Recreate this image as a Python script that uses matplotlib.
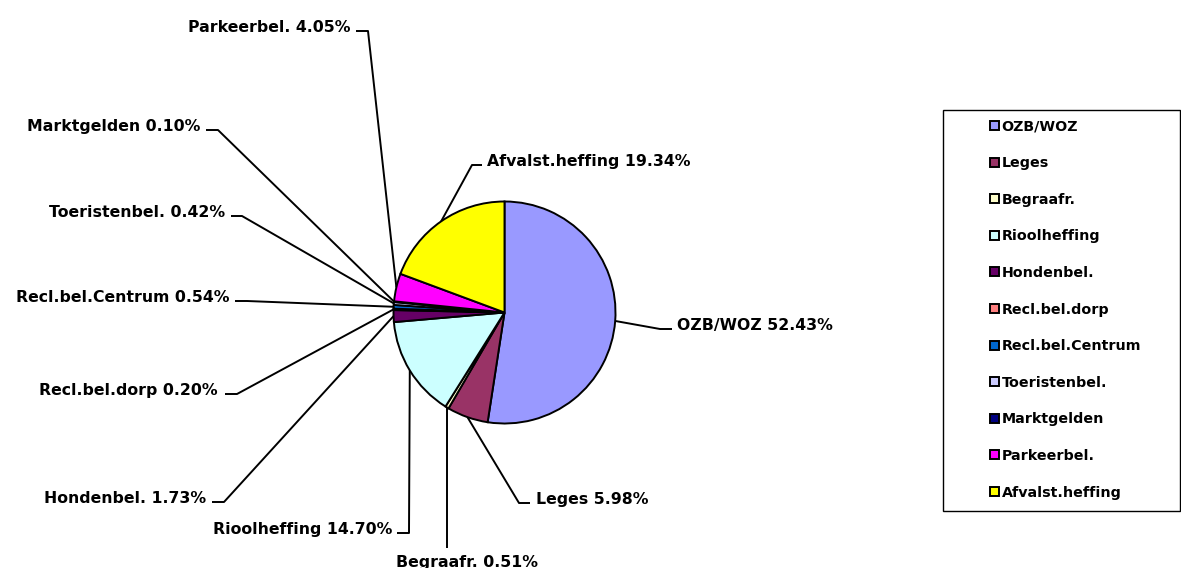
import matplotlib
matplotlib.use("Agg")
import matplotlib.pyplot as plt
from matplotlib.patches import Rectangle
import numpy as np

# ---- data ----
categories = ["OZB/WOZ", "Leges", "Begraafr.", "Rioolheffing", "Hondenbel.",
              "Recl.bel.dorp", "Recl.bel.Centrum", "Toeristenbel.", "Marktgelden",
              "Parkeerbel.", "Afvalst.heffing"]
shares = [52.43, 5.98, 0.51, 14.70, 1.73, 0.20, 0.54, 0.42, 0.10, 4.05, 19.34]

# ---- style ----
colors = ["#9999FF", "#993366", "#FFFFCC", "#CCFFFF", "#660066", "#FF8080",
          "#0066CC", "#CCCCFF", "#000080", "#FF00FF", "#FFFF00"]

W, H = 1181, 568
fig = plt.figure(figsize=(W / 100, H / 100), dpi=100)
ax = fig.add_axes([0, 0, 1, 1])

def Y(y):
    return H - y

cx, cy, R = 504.5, 312.5, 111
wedges, _ = ax.pie(shares, colors=colors, startangle=90, counterclock=False,
                   center=(cx, Y(cy)), radius=R,
                   wedgeprops=dict(edgecolor="black", linewidth=1.4))
ax.set_xlim(0, W)
ax.set_ylim(0, H)
ax.set_aspect("auto")
ax.axis("off")

# label layout: text x, text baseline y, ha, leader points (pixel coords, top-down)
layout = {
    "OZB/WOZ":          (677, 330, "left",   [(672, 329), (660, 329)]),
    "Leges":            (536, 504, "left",   [(530, 503), (519, 503)]),
    "Begraafr.":        (467, 567, "center", [(447, 548)]),
    "Rioolheffing":     (392, 534, "right",  [(397, 533), (409, 533)]),
    "Hondenbel.":       (206, 503, "right",  [(212, 502), (224, 502)]),
    "Recl.bel.dorp":    (218, 395, "right",  [(225, 394), (237, 394)]),
    "Recl.bel.Centrum": (229, 302, "right",  [(235, 301), (247, 301)]),
    "Toeristenbel.":    (225, 217, "right",  [(231, 216), (242, 216)]),
    "Marktgelden":      (200, 131, "right",  [(206, 130), (218, 130)]),
    "Parkeerbel.":      (350, 32,  "right",  [(356, 31), (368, 31)]),
    "Afvalst.heffing":  (487, 166, "left",   [(482, 165), (472, 165)]),
}

for w, name, val in zip(wedges, categories, shares):
    tx, ty, ha, pts = layout[name]
    ang = np.deg2rad((w.theta1 + w.theta2) / 2)
    ex = w.center[0] + w.r * np.cos(ang)
    ey = w.center[1] + w.r * np.sin(ang)
    xs = [p[0] for p in pts] + [ex]
    ys = [Y(p[1]) for p in pts] + [ey]
    ax.plot(xs, ys, color="black", linewidth=1.4, solid_capstyle="butt", zorder=0)
    ax.text(tx, Y(ty), f"{name} {val:.2f}%", ha=ha, va="baseline",
            fontsize=11.3, fontweight="bold", family="DejaVu Sans")

# legend frame
ax.add_patch(Rectangle((943, Y(511)), 1180 - 943, 511 - 110, facecolor="white",
                       edgecolor="black", linewidth=1.0, zorder=1))
leg = ax.legend(wedges, categories, loc="upper left", frameon=False,
                bbox_to_anchor=(990, Y(119.5)), bbox_transform=ax.transData,
                borderpad=0, borderaxespad=0, handlelength=0.6, handleheight=0.6,
                handletextpad=0.2, labelspacing=1.58,
                prop=dict(size=10.3, weight="bold", family="DejaVu Sans"))
leg.set_zorder(2)

fig.savefig("out.png", dpi=100)
